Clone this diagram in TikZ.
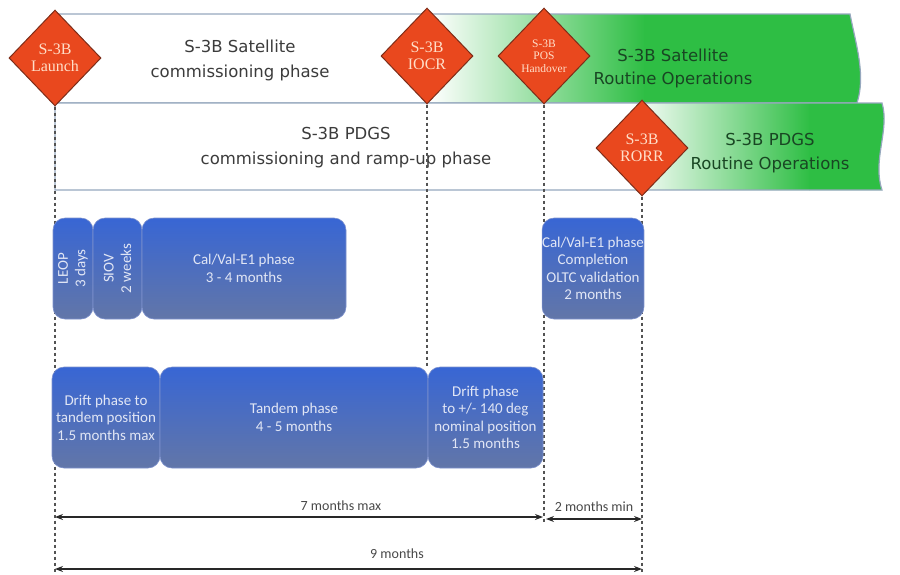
\documentclass[tikz,border=0pt]{standalone}
\usepackage{fontspec}
\usepackage{xcolor}
\usetikzlibrary{shapes.geometric}
\usetikzlibrary{arrows.meta}

\newfontfamily\bandfont{DejaVu Sans}
\newfontfamily\boxfont{Carlito}
\newfontfamily\milefont{Liberation Serif}

\definecolor{opsgreen}{RGB}{46,190,68}
\definecolor{opstext}{RGB}{25,70,35}
\definecolor{bandline}{RGB}{150,168,190}
\definecolor{bandtext}{RGB}{60,60,60}
\definecolor{milered}{RGB}{233,72,30}
\definecolor{mileedge}{RGB}{125,45,25}
\definecolor{miletext}{RGB}{255,222,200}
\definecolor{phasetop}{RGB}{56,102,212}
\definecolor{phasebot}{RGB}{98,118,168}
\definecolor{phaseedge}{RGB}{125,145,205}
\definecolor{phasetext}{RGB}{225,230,245}
\definecolor{dimgray}{RGB}{40,40,40}

\begin{document}
\begin{tikzpicture}[x=1pt,y=-1pt,
    milestone/.style={diamond,draw=mileedge,line width=1pt,fill=milered,
        minimum width=92pt,minimum height=96pt,inner sep=0pt,align=center,
        text=miletext,font=\milefont\fontsize{16}{17}\selectfont},
    phase/.style={draw=phaseedge,line width=0.6pt,rounded corners=12pt,
        top color=phasetop,bottom color=phasebot,text=phasetext,align=center,
        inner sep=0pt,font=\boxfont\fontsize{15}{17.5}\selectfont},
    bandlabel/.style={align=center,text=bandtext,font=\bandfont\fontsize{16.5}{25}\selectfont},
    opslabel/.style={bandlabel,text=opstext,font=\bandfont\fontsize{16.5}{23.5}\selectfont},
    mileline/.style={dash pattern=on 3.5pt off 2.5pt,line width=1.4pt,dimgray!80},
    span/.style={{Stealth[length=8pt,width=6pt]}-{Stealth[length=8pt,width=6pt]},
        line width=1.1pt,dimgray},
    spanlabel/.style={text=dimgray!85,font=\boxfont\fontsize{14}{16}\selectfont}
]
\useasboundingbox (0,0) rectangle (900,574);

% satellite band
\begin{scope}
    \clip (55,14) -- (850,14) .. controls (856,45) and (866,75) .. (857,103) -- (55,103) -- cycle;
    \fill[white] (40,0) rectangle (900,110);
    \shade[left color=white,right color=opsgreen] (430,0) rectangle (645,110);
    \fill[opsgreen] (644,0) rectangle (900,110);
\end{scope}
\draw[bandline,line width=1.2pt] (55,14) -- (850,14) .. controls (856,45) and (866,75) .. (857,103) -- (55,103);

% pdgs band
\begin{scope}
    \clip (55,103) -- (882,103) .. controls (890,130) and (872,160) .. (882,190) -- (55,190) -- cycle;
    \fill[white] (40,95) rectangle (900,200);
    \shade[left color=white,right color=opsgreen] (630,95) rectangle (810,200);
    \fill[opsgreen] (809,95) rectangle (900,200);
\end{scope}
\draw[bandline,line width=1.2pt] (55,103) -- (882,103) .. controls (890,130) and (872,160) .. (882,190) -- (55,190) -- cycle;

\node[bandlabel] (satcom) at (240,60) {S-3B Satellite\\commissioning phase};
\node[bandlabel] (pdgscom) at (346,147.5) {S-3B PDGS\\commissioning and ramp-up phase};
\node[opslabel] (satops) at (673,68.5) {S-3B Satellite\\Routine Operations};
\node[opslabel] (pdgsops) at (770,153) {S-3B PDGS\\Routine Operations};

% milestones
\node[milestone] (launch) at (55,58) {S-3B\\Launch};
\node[milestone] (iocr) at (427,56) {S-3B\\IOCR};
\node[milestone,font=\milefont\fontsize{11.5}{12.5}\selectfont] (pos) at (544,56) {S-3B\\POS\\Handover};
\node[milestone] (rorr) at (642,148) {S-3B\\RORR};

\coordinate (launchend) at (55,572);
\coordinate (iocrend) at (427,367);
\coordinate (posend) at (544,523);
\coordinate (rorrend) at (642,572);

\draw[mileline] (launch.south) -- (launchend);
\draw[mileline] (iocr.south) -- (iocrend);
\draw[mileline] (pos.south) -- (posend);
\draw[mileline] (rorr.south) -- (rorrend);

% phases
\node[phase,rotate=90,minimum width=101pt,minimum height=40pt] (leop) at (73,268.5) {LEOP\\3 days};
\node[phase,rotate=90,minimum width=101pt,minimum height=49pt] (siov) at (117.5,268.5) {SIOV\\2 weeks};
\node[phase,minimum width=204pt,minimum height=101pt] (calval) at (244,268.5) {Cal/Val-E1 phase\\3 - 4 months};
\node[phase,minimum width=96pt,minimum height=101pt] (calvalend) at (593,268.5) {Cal/Val-E1 phase\\Completion\\OLTC validation\\2 months};

\node[phase,minimum width=108pt,minimum height=101pt] (drifttan) at (106,417.5) {Drift phase to\\tandem position\\1.5 months max};
\node[phase,minimum width=268pt,minimum height=101pt] (tandem) at (294,417.5) {Tandem phase\\4 - 5 months};
\node[phase,minimum width=115pt,minimum height=101pt] (driftnom) at (485.5,417.5) {Drift phase\\to +/- 140 deg\\nominal position\\1.5 months};

% durations
\coordinate (s7a) at (55,517);
\coordinate (s7b) at (543,517);
\coordinate (s2a) at (546,519);
\coordinate (s2b) at (642,519);
\coordinate (s9a) at (55,569);
\coordinate (s9b) at (642,569);

\draw[span] (s7a) -- (s7b);
\draw[span] (s2a) -- (s2b);
\draw[span] (s9a) -- (s9b);

\node[spanlabel] (m7) at (341,506) {7 months max};
\node[spanlabel] (m2) at (594,507) {2 months min};
\node[spanlabel] (m9) at (397,554) {9 months};
\end{tikzpicture}
\end{document}
